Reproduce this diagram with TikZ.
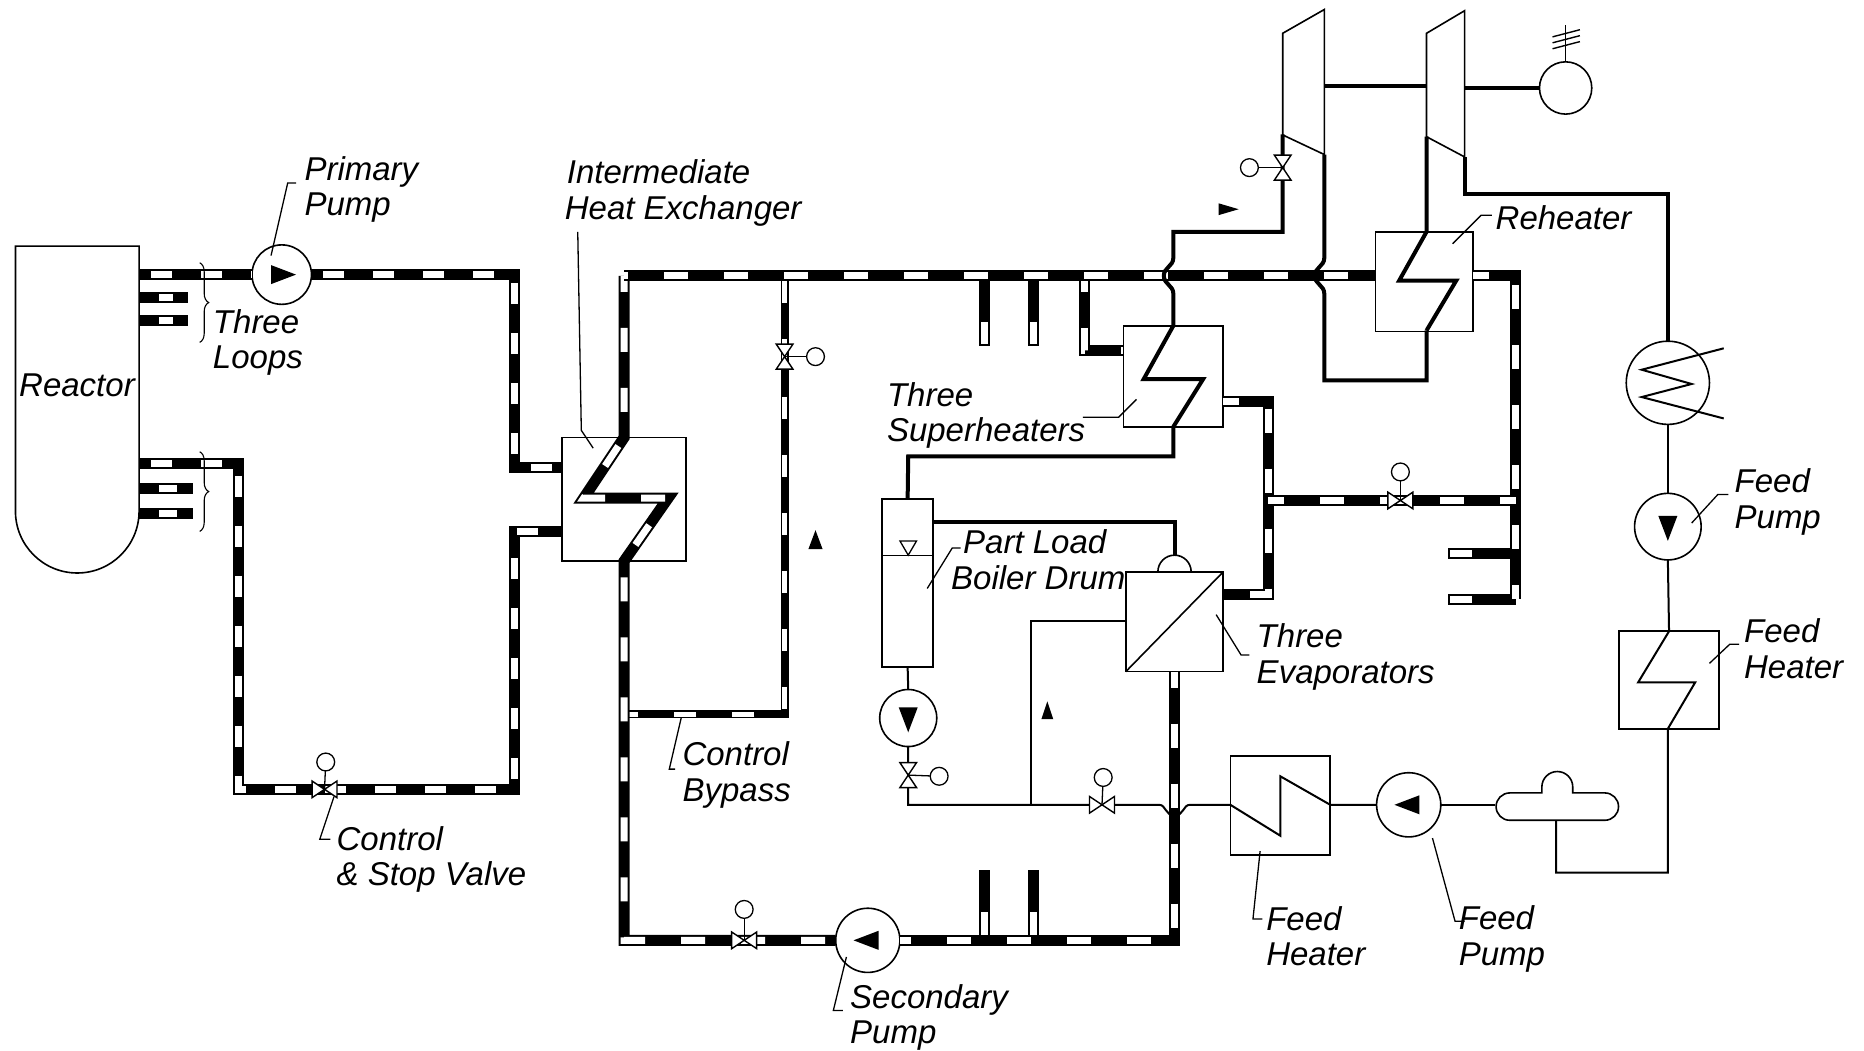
\documentclass[tikz,border=0pt]{standalone}
\usepackage{fontspec}
\setmainfont{Liberation Sans}
\usetikzlibrary{decorations.pathreplacing}
\def\un{1.18878pt}
\tikzset{
  pipebase/.style={line width=11pt, black, line join=miter},
  pipe/.style={pipebase, postaction={draw, white, line width=7pt, dash pattern=on 24pt off 36pt, dash phase=#1}},
  pipe/.default=8pt,
  primarypipe/.style={pipebase, postaction={draw, white, line width=7pt, dash pattern=on 21pt off 29pt, dash phase=-12pt}},
  bypasspipe/.style={line width=8pt, black, postaction={draw, white, line width=5pt, dash pattern=on 22pt off 36pt, dash phase=-5pt}},
  stubpipe/.style 2 args={pipebase, postaction={draw, white, line width=7pt, shorten >=2pt, dash pattern=on 0pt off #1 on #2 off 200pt}},
  steamline/.style={line width=4pt, black, line join=miter},
  feedline/.style={line width=2pt, black},
  leaderline/.style={line width=1.3pt, black},
  boxnode/.style 2 args={draw, line width=1.6pt, minimum width=#1*\un, minimum height=#2*\un, inner sep=0pt, outer sep=0pt},
  pumpnode/.style={draw, circle, line width=1.6pt, fill=white, minimum size=#1*\un, inner sep=0pt, outer sep=0pt},
  actuator/.style={draw, circle, line width=1.3pt, fill=white, minimum size=15*\un, inner sep=0pt, outer sep=0pt},
  lbl/.style={anchor=west, align=left, inner sep=0pt, font=\fontsize{33}{35.7}\selectfont\itshape},
  valve/.pic={\draw[line width=1.4pt, fill=white] (-10.5,-7) -- (10.5,7) -- (10.5,-7) -- (-10.5,7) -- cycle;},
  brace8/.style={line width=1.1pt, decorate, decoration={brace, amplitude=9pt}}
}
\begin{document}
\begin{tikzpicture}[x=1.18878pt, y=-1.18878pt]
\useasboundingbox (0,0) rectangle (1568,884);

\draw[line width=1.6pt] (13,207) -- (117,207) -- (117,430) arc[start angle=0, end angle=180, radius=52] -- cycle;
\node[lbl] (reactor) at (16,324) {Reactor};

\node[pumpnode=50] (pp1) at (237,231) {};
\node[pumpnode=54] (pp2) at (730,791) {};
\node[pumpnode=48] (pp3) at (764,604) {};
\node[pumpnode=54] (pp4) at (1185,677) {};
\node[pumpnode=56] (pp5) at (1403,443) {};
\node[pumpnode=70] (cond) at (1403,322) {};
\node[pumpnode=44] (gen) at (1317,74) {};

\node[boxnode={104}{104}] (ihx) at (525,420) {};
\node[boxnode={84}{85}] (sh) at (987,316.5) {};
\node[boxnode={82}{83.5}] (rh) at (1198,237) {};
\node[boxnode={82}{84}] (ev) at (988,523) {};
\node[boxnode={43}{141}] (drum) at (763.5,490.5) {};
\node[boxnode={84}{83}] (fh1) at (1077,677.5) {};
\node[boxnode={84}{82}] (fh2) at (1404,572) {};

\coordinate (v1) at (273,664);
\coordinate (v2) at (660,300);
\coordinate (v3) at (1079,141);
\coordinate (v4) at (1178,421);
\coordinate (v5) at (927,677);
\coordinate (v6) at (764,652);
\coordinate (v7) at (626,791);

\coordinate (hot1) at (117,231);
\coordinate (hot2) at (433,231);
\coordinate (hot3) at (433,393);
\coordinate (hot4) at (473,393);
\coordinate (cold1) at (117,390);
\coordinate (cold2) at (201,390);
\coordinate (cold3) at (201,664);
\coordinate (cold4) at (433,664);
\coordinate (cold5) at (433,447);
\coordinate (cold6) at (473,447);
\draw[primarypipe] (hot1) -- (pp1.west);
\draw[primarypipe] (pp1.east) -- (hot2) -- (hot3) -- (hot4);
\draw[primarypipe] (cold1) -- (cold2) -- (cold3) -- (cold4) -- (cold5) -- (cold6);
\draw[stubpipe={20pt}{14pt}] (117,250) -- (158,250);
\draw[stubpipe={20pt}{14pt}] (117,270) -- (158,270);
\draw[stubpipe={20pt}{18pt}] (117,411) -- (162,411);
\draw[stubpipe={20pt}{18pt}] (117,432) -- (162,432);

\coordinate (sec1) at (525,232);
\coordinate (sec2) at (525,368);
\coordinate (sec3) at (491,419);
\coordinate (sec4) at (562,419);
\coordinate (sec5) at (525,472);
\coordinate (sec6) at (525,791);
\coordinate (sec7) at (988,791);
\coordinate (sec8) at (988,565);
\coordinate (sec9) at (1157,232);
\coordinate (sec10) at (1239,232);
\coordinate (sec11) at (1275,232);
\coordinate (sec12) at (1275,504);
\coordinate (by1) at (660,232);
\coordinate (by2) at (660,601);
\coordinate (by3) at (525,601);
\coordinate (mid1) at (1029,338);
\coordinate (mid2) at (1067,338);
\coordinate (mid3) at (1067,500);
\coordinate (mid4) at (1029,500);
\coordinate (mid5) at (1067,421);
\coordinate (mid6) at (1275,421);
\coordinate (sh1) at (912,232);
\coordinate (sh2) at (912,295);
\coordinate (sh3) at (945,295);
\draw[bypasspipe] (by1) -- (by2) -- (by3);
\draw[pipe] (sh1) -- (sh2) -- (sh3);
\draw[stubpipe={46pt}{28pt}] (828,232) -- (828,291);
\draw[stubpipe={46pt}{28pt}] (869,232) -- (869,291);
\draw[stubpipe={44pt}{25pt}] (1275,466) -- (1218,466);
\draw[stubpipe={44pt}{25pt}] (1275,504) -- (1218,504);
\draw[stubpipe={42pt}{24pt}] (828,732) -- (828,791);
\draw[stubpipe={42pt}{24pt}] (869,732) -- (869,791);
\draw[pipe] (sec1) -- (sec2) -- (sec3) -- (sec4) -- (sec5) -- (sec6) -- (pp2.west);
\draw[pipe] (sec8) -- (sec7) -- (pp2.east);
\draw[pipe=20pt] (sec1) -- (sec9);
\draw[pipe] (sec10) -- (sec11) -- (sec12);
\draw[pipe] (mid1) -- (mid2) -- (mid3) -- (mid4);
\draw[pipe] (mid5) -- (mid6);

\coordinate (st1) at (987,195);
\coordinate (st2) at (1079,195);
\coordinate (st3) at (1079,113);
\coordinate (lo1) at (1114,320);
\coordinate (lo2) at (1200,320);
\coordinate (lo3) at (1200,278);
\draw[steamline] (drum.north) -- (764,384) -- (987,384) -- (987,359);
\draw[steamline] (987,359) -- (1012,319) -- (962,319) -- (987,274) -- (987,247) .. controls (987,240) and (979,239) .. (979,232) .. controls (979,225) and (987,224) .. (987,217) -- (st1) -- (st2) -- (st3);
\draw[steamline] (1114,130) -- (1114,217) .. controls (1114,224) and (1106,225) .. (1106,232) .. controls (1106,239) and (1114,240) .. (1114,247) -- (lo1) -- (lo2) -- (lo3);
\draw[steamline] (lo3) -- (1225,236) -- (1177,236) -- (1200,195) -- (1200,115);
\draw[steamline] (1232,132) -- (1232,163) -- (1403,163) -- (cond.north);
\draw[steamline] (1114,72) -- (1200,72);
\draw[steamline] (1232,74) -- (gen.west);
\draw[steamline] (785,439) -- (988,439) -- (988,467);
\draw[line width=1.6pt] (1079,28) -- (1114,8) -- (1114,130) -- (1079,113.5) -- cycle;
\draw[line width=1.6pt] (1200,28) -- (1232,9) -- (1232,132) -- (1200,115) -- cycle;

\draw[line width=1.6pt] (gen.north) -- (1317,21);
\foreach \tick in {28,33,38}
  \draw[line width=1.4pt] (1306,\tick+3) -- (1329,\tick-3);

\draw[feedline] (cond.south) -- (pp5.north);
\draw[feedline] (pp5.south) -- (fh2.north);
\draw[feedline] (fh2.north) -- (1378,574) -- (1426,574) -- (1403,613) -- (1403,734) -- (1309,734) -- (1309,690);
\draw[feedline, line join=miter] (1450,293) -- (1381,311) -- (1423,323) -- (1381,334) -- (1450,352);
\draw[line width=1.6pt] (1270,667) -- (1297,667) -- (1297,662) arc[start angle=180, end angle=360, radius=13] -- (1323,667) -- (1350,667) arc[start angle=-90, end angle=90, radius=11.5] -- (1270,690) arc[start angle=90, end angle=270, radius=11.5] -- cycle;
\draw[feedline] (1258,677) -- (pp4.east);
\draw[feedline] (pp4.west) -- (1119,677) -- (1077,653) -- (1077,703) -- (1035,677) -- (1001,677) .. controls (995,677) and (996,686) .. (988,686) .. controls (980,686) and (981,677) .. (975,677) -- (764,677) -- (pp3.south);
\draw[feedline] (pp3.north) -- (drum.south);
\draw[feedline] (867,677) -- (867,522) -- (947,522);
\draw[line width=1.6pt] (974,481) arc[start angle=180, end angle=360, radius=14];
\draw[line width=1.6pt] (ev.south west) -- (ev.north east);
\draw[line width=1.3pt] (742,467) -- (785,467);
\draw[line width=1.3pt] (757,455) -- (771,455) -- (764,467) -- cycle;

\foreach \v/\rot in {v1/0, v2/90, v3/90, v4/0, v5/0, v6/90, v7/0}
  \pic[rotate=\rot] at (\v) {valve};
\node[actuator] (a1) at (274,641) {};
\node[actuator] (a2) at (686,300) {};
\node[actuator] (a3) at (1051,141) {};
\node[actuator] (a4) at (1178,397) {};
\node[actuator] (a5) at (928,654) {};
\node[actuator] (a6) at (790,653) {};
\node[actuator] (a7) at (626,765) {};
\foreach \v/\a in {v1/a1, v2/a2, v3/a3, v4/a4, v5/a5, v6/a6, v7/a7}
  \draw[line width=1.3pt] (\v) -- (\a);

\foreach \p/\a in {pp1/0, pp2/180, pp3/-90, pp4/180, pp5/-90}
  \fill[shift={(\p.center)}, rotate=\a] (-9,-8) -- (12,0) -- (-9,8) -- cycle;
\fill (680,462) -- (686,446) -- (692,462) -- cycle;
\fill (876,605) -- (881,590) -- (886,605) -- cycle;
\fill (1025,171) -- (1042,176) -- (1025,181) -- cycle;

\draw[brace8] (168,221) -- (168,288);
\draw[brace8] (168,380) -- (168,447);

\node[lbl] (l1) at (256,159.5) {Primary\\Pump};
\node[lbl] (l2) at (475,162.5) {\hspace{2pt}Intermediate\\Heat Exchanger};
\node[lbl] (l3) at (179,288) {Three\\Loops};
\node[lbl] (l4) at (283,723) {Control\\\& Stop Valve};
\node[lbl] (l5) at (574,652) {Control\\Bypass};
\node[lbl] (l6) at (715,856) {Secondary\\Pump};
\node[lbl] (l7) at (1065,787.5) {Feed\\Heater};
\node[lbl] (l8) at (1227,790) {Feed\\Pump};
\node[lbl] (l9) at (1057,552.5) {Three\\Evaporators};
\node[lbl] (l10) at (800,471) {\hspace{12pt}Part Load\\Boiler Drum};
\node[lbl] (l11) at (746,349.5) {Three\\Superheaters};
\node[lbl] (l12) at (1258,183) {Reheater};
\node[lbl] (l13) at (1459,422) {Feed\\Pump};
\node[lbl] (l14) at (1467,545.5) {Feed\\Heater};

\draw[leaderline] (228,215) -- (242,154) -- (249,154);
\draw[leaderline] (486,195) -- (489,362) -- (499,377);
\draw[leaderline] (281,670) -- (269,706) -- (278,706);
\draw[leaderline] (573,604) -- (563,647) -- (568,647);
\draw[leaderline] (712,805) -- (701,850) -- (709,850);
\draw[leaderline] (1060,716) -- (1054,773) -- (1062,773);
\draw[leaderline] (1205,705) -- (1224,775) -- (1232,775);
\draw[leaderline] (1023,517) -- (1044,551) -- (1051,551);
\draw[leaderline] (780,495) -- (801,461) -- (808,461);
\draw[leaderline] (956,336) -- (941,351) -- (911,351);
\draw[leaderline] (1222,205) -- (1246,181) -- (1255,181);
\draw[leaderline] (1423,440) -- (1445,416) -- (1454,416);
\draw[leaderline] (1438,558) -- (1455,542) -- (1463,542);
\end{tikzpicture}
\end{document}
